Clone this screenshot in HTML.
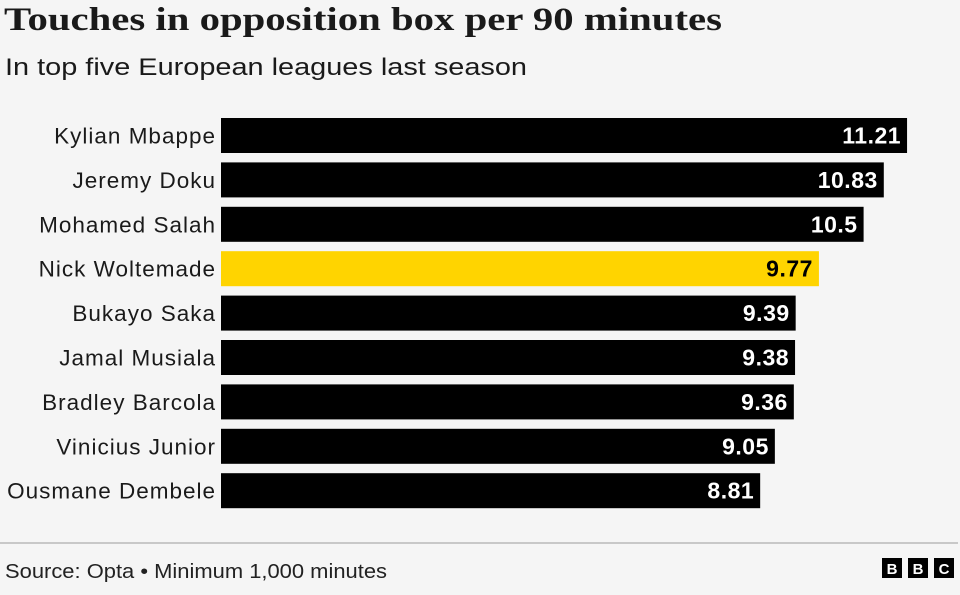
<!DOCTYPE html>
<html><head><meta charset="utf-8"><style>
body{margin:0;background:#f5f5f5;}
#c{position:relative;width:960px;height:595px;background:#f5f5f5;overflow:hidden;font-family:"Liberation Sans",sans-serif;}
</style></head><body>
<div id="c">
<svg width="960" height="595" id="svg">
<text x="4" y="30" font-family="Liberation Serif,serif" font-size="33" font-weight="bold" fill="#1a1a1a" textLength="718" lengthAdjust="spacingAndGlyphs">Touches in opposition box per 90 minutes</text>
<text x="5" y="75" font-size="24" fill="#1a1a1a" textLength="522" lengthAdjust="spacingAndGlyphs">In top five European leagues last season</text>
<g id="bars"></g>
<line x1="0" y1="543" x2="958" y2="543" stroke="#c8c8c8" stroke-width="2"/>
<text x="5" y="578" font-size="20" fill="#222" textLength="382" lengthAdjust="spacingAndGlyphs">Source: Opta • Minimum 1,000 minutes</text>
<g>
<rect x="882" y="558" width="20" height="20" fill="#000"/><text x="892" y="574" font-size="15" font-weight="bold" fill="#fff" text-anchor="middle">B</text>
<rect x="908" y="558" width="20" height="20" fill="#000"/><text x="918" y="574" font-size="15" font-weight="bold" fill="#fff" text-anchor="middle">B</text>
<rect x="934" y="558" width="20" height="20" fill="#000"/><text x="944" y="574" font-size="15" font-weight="bold" fill="#fff" text-anchor="middle">C</text>
</g>
</svg>
</div>
<script>
const categories=["Kylian Mbappe","Jeremy Doku","Mohamed Salah","Nick Woltemade","Bukayo Saka","Jamal Musiala","Bradley Barcola","Vinicius Junior","Ousmane Dembele"];
const values=[11.21,10.83,10.5,9.77,9.39,9.38,9.36,9.05,8.81];
const valueLabels=["11.21","10.83","10.5","9.77","9.39","9.38","9.36","9.05","8.81"];
const highlight=["Nick Woltemade"];
const x0=221,pxPerUnit=61.2,top0=118,step=44.4,bh=35;
function xScale(v){return x0+v*pxPerUnit;}
function yScale(i){return top0+i*step;}
const ns="http://www.w3.org/2000/svg";
const g=document.getElementById("bars");
categories.forEach((cat,i)=>{
  const y=yScale(i),w=xScale(values[i])-x0,hl=highlight.includes(cat);
  const r=document.createElementNS(ns,"rect");
  r.setAttribute("x",x0);r.setAttribute("y",y);r.setAttribute("width",w);r.setAttribute("height",bh);
  r.setAttribute("fill",hl?"#ffd400":"#000");
  
  
  g.appendChild(r);
  const l=document.createElementNS(ns,"text");
  l.setAttribute("x",x0-5);l.setAttribute("y",y+bh/2+8);l.setAttribute("text-anchor","end");
  l.setAttribute("font-size","22.5");l.setAttribute("letter-spacing","1");l.setAttribute("fill","#1a1a1a");l.textContent=cat;
  
  
  g.appendChild(l);
  const v=document.createElementNS(ns,"text");
  v.setAttribute("x",xScale(values[i])-6);v.setAttribute("y",y+bh/2+8);v.setAttribute("text-anchor","end");
  v.setAttribute("font-size","23");v.setAttribute("font-weight","bold");v.setAttribute("letter-spacing","0.5");v.setAttribute("fill",hl?"#000":"#fff");
  v.textContent=valueLabels[i];
  
  
  g.appendChild(v);
});
</script>
</body></html>
